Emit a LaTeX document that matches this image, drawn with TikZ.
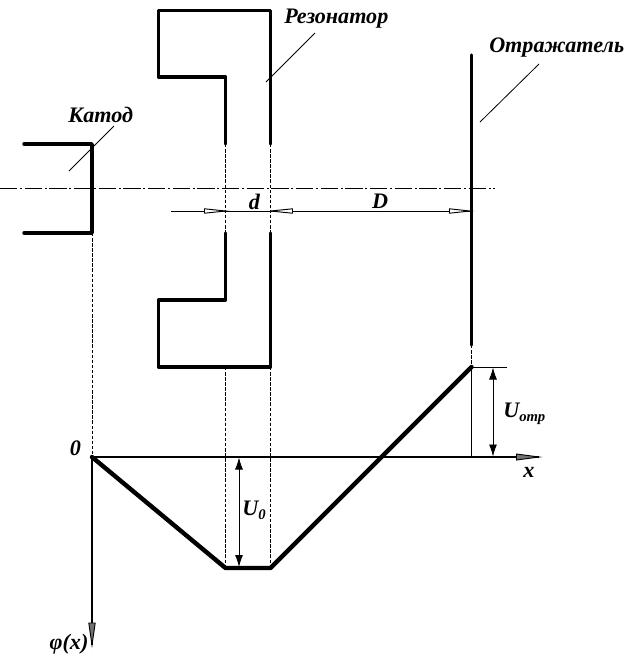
\documentclass[tikz,border=0pt]{standalone}
\usepackage{fontspec}
\setmainfont{Liberation Serif}
\usetikzlibrary{arrows.meta}
\newcommand{\subtxt}[1]{\raisebox{-2.6pt}{\fontsize{11pt}{11pt}\selectfont #1}}
\tikzset{
  heavy/.style={line width=2.6pt,line cap=round,line join=round,black},
  graphline/.style={line width=3.3pt,line cap=round,line join=round,black},
  thin line/.style={line width=0.7pt,black},
  ext/.style={line width=0.55pt,black,dash pattern=on 2.6pt off 1.2pt},
  axisline/.style={line width=0.6pt,black,dash pattern=on 13pt off 2pt on 1.5pt off 2pt},
  leader/.style={line width=0.6pt,black},
  hollowthin/.style={line width=0.7pt,black},
  solidtip/.style={{Latex[length=9pt,width=6pt]}-{Latex[length=9pt,width=6pt]}},
  lab/.style={font=\fontsize{16.6pt}{19pt}\selectfont\bfseries\itshape,inner sep=0pt,text=black},
}
\begin{document}
\begin{tikzpicture}[x=0.75pt,y=-0.75pt]
\useasboundingbox (0,0) rectangle (631,658);
% key points
\coordinate (K1) at (24,144);
\coordinate (K2) at (92,144);
\coordinate (K3) at (92,233);
\coordinate (K4) at (24,233);
\coordinate (RinT) at (225.5,144);
\coordinate (RoutT) at (270.5,144);
\coordinate (RinB) at (225.5,233);
\coordinate (RoutB) at (270.5,233);
\coordinate (O) at (92,457);
\coordinate (M1) at (225.5,568);
\coordinate (M2) at (270.5,568);
\coordinate (Top) at (471.5,367);
\coordinate (RefT) at (471.5,55);
\coordinate (RefB) at (471.5,345);
\coordinate (Xend) at (539,457);
\coordinate (Yend) at (92,645);
\coordinate (RefBase) at (471.5,457);
% centre line
\coordinate (CL) at (0,188);
\coordinate (CR) at (495,188);
\draw[axisline] (CL) -- (CR);
% extension lines
\draw[ext] (K3) -- (O);
\draw[ext] (RinT) -- (RinB);
\draw[ext] (RoutT) -- (RoutB);
\coordinate (RinL) at (225.5,367);
\coordinate (RoutL) at (270.5,367);
\draw[ext] (RinL) -- (M1);
\draw[ext] (RoutL) -- (M2);
\draw[ext] (RefB) -- (Top);
% cathode
\draw[heavy] (K1) -- (K2) -- (K3) -- (K4);
% resonator
\draw[heavy] (RinT) -- (225.5,77) -- (158.5,77) -- (158.5,10.5) -- (270.5,10.5) -- (RoutT);
\draw[heavy] (RinB) -- (225.5,300) -- (158.5,300) -- (158.5,367) -- (270.5,367) -- (RoutB);
% reflector
\draw[heavy] (RefT) -- (RefB);
% d, D dimensions
\coordinate (DL) at (171,211);
\coordinate (DA) at (225.5,211);
\coordinate (DB) at (270.5,211);
\coordinate (DC) at (470,211);
\draw[thin line] (DL) -- (DC);
\draw[hollowthin,fill=white] (204.5,208.8) -- (DA) -- (204.5,213.2) -- cycle;
\draw[hollowthin,fill=white] (292.5,208.8) -- (DB) -- (292.5,213.2) -- cycle;
\draw[hollowthin,fill=white] (449.5,208.8) -- (DC) -- (449.5,213.2) -- cycle;
% axes
\draw[line width=1pt] (O) -- (Xend);
\draw[line width=1pt] (O) -- (Yend);
\draw[hollowthin,fill=black!55] (516.5,454) -- (Xend) -- (516.5,460) -- cycle;
\draw[hollowthin,fill=black!55] (88.8,623) -- (Yend) -- (95.2,623) -- cycle;
% potential graph
\draw[line width=1pt] (RefBase) -- (Top);
\draw[graphline] (O) -- (M1) -- (M2) -- (Top);
% voltage dimensions
\coordinate (TopR) at (507,367);
\draw[leader] (Top) -- (TopR);
\coordinate (Ua) at (493,367.5);
\coordinate (Ub) at (493,456.5);
\draw[thin line,solidtip] (Ua) -- (Ub);
\coordinate (Uc) at (239,457.5);
\coordinate (Ud) at (239,567);
\draw[thin line,solidtip] (Uc) -- (Ud);
% leaders
\node[lab,anchor=west] (katod) at (68,115) {Катод};
\node[lab,anchor=west] (rez) at (284,19) {Резонатор};
\node[lab,anchor=west] (otr) at (489,48) {Отражатель};
\coordinate (l1a) at (114,126); \coordinate (l1b) at (69,171);
\coordinate (l2a) at (315,33); \coordinate (l2b) at (266,82);
\coordinate (l3a) at (539,64); \coordinate (l3b) at (480,122);
\draw[leader] (l1a) -- (l1b);
\draw[leader] (l2a) -- (l2b);
\draw[leader] (l3a) -- (l3b);
% labels
\node[lab] (dlab) at (254.5,201.5) {d};
\node[lab] (Dlab) at (380,201.5) {D};
\node[lab,anchor=west] (uotr) at (503,414) {U\subtxt{отр}};
\node[lab,anchor=west] (u0) at (242,510.5) {U\subtxt{0}};
\node[lab] (zero) at (75.5,448.5) {0};
\node[lab] (xlab) at (529,472) {x};
\node[lab] (phi) at (69,644.5) {φ(x)};
\end{tikzpicture}
\end{document}
